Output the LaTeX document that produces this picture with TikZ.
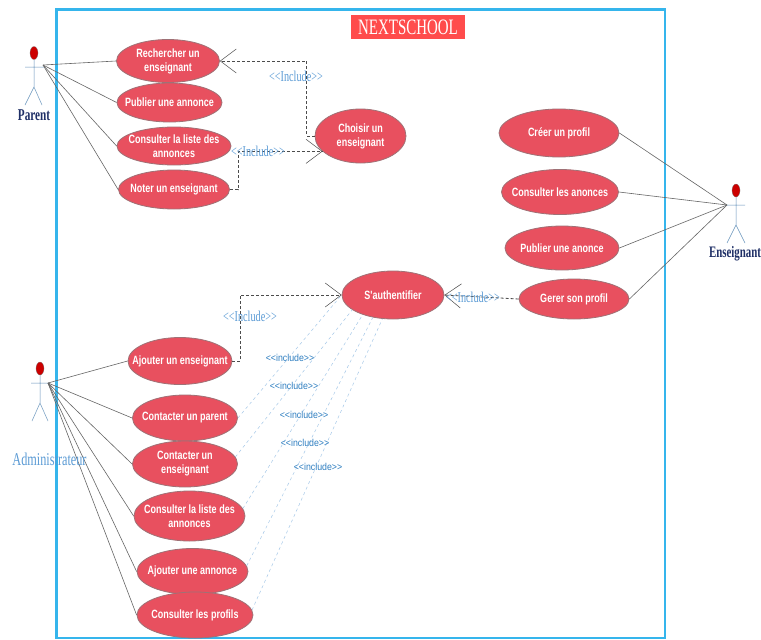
\documentclass[tikz,border=0pt]{standalone}
\usepackage{fontspec}
\usetikzlibrary{shapes.geometric,arrows.meta}
\newfontfamily\ucfont[FakeStretch=0.75]{Liberation Sans}
\newfontfamily\lblfont[FakeStretch=0.68]{Liberation Serif}
\newfontfamily\incfont[FakeStretch=0.88]{Liberation Sans}
\definecolor{ucred}{HTML}{E8505F}
\definecolor{frameblue}{HTML}{35B5EC}
\definecolor{navy}{HTML}{1F2F66}
\definecolor{lightlbl}{HTML}{5B9BD5}
\definecolor{incblue}{HTML}{2F7FC1}
\tikzset{
  usecase/.style={ellipse,draw=gray!70!ucred,line width=.8pt,fill=ucred,text=white,inner xsep=-30pt,inner ysep=-12pt,align=center,
    font=\ucfont\bfseries\fontsize{12}{14}\selectfont},
  actorline/.style={draw=lightlbl!70!gray,line width=.5pt},
  assoc/.style={draw=black!60,line width=.6pt},
  incl/.style={draw=black!70,densely dashed,line width=.8pt},
  inclhead/.style={-{Straight Barb[length=16pt,width=24pt,line width=.5pt]}},
  faint/.style={draw=lightlbl!55,dashed,line width=.5pt},
  seriflabel/.style={text=lightlbl,font=\lblfont\fontsize{15}{17}\selectfont,inner sep=0pt},
  smalllabel/.style={text=incblue,font=\incfont\fontsize{10}{12}\selectfont,inner sep=0pt},
  actorname/.style={inner sep=0pt}
}
\begin{document}
\begin{tikzpicture}[x=1pt,y=-1pt]
\useasboundingbox (0,0) rectangle (761,640);
\fill[white] (0,0) rectangle (761,640);
% system frame and title
\draw[frameblue,line width=2.2pt] (56.5,9.5) rectangle (665,638);
\node[fill=red!70!white,text=white,minimum width=114pt,minimum height=24pt,inner sep=0pt,
  font=\lblfont\fontsize{22}{24}\selectfont] (title) at (408,27) {NEXTSCHOOL};
% use cases
\node[usecase,minimum width=103pt,minimum height=43pt] (rech) at (168,61) {Rechercher un\\enseignant};
\node[usecase,minimum width=105pt,minimum height=39pt] (pub) at (169.5,102.5) {Publier une annonce};
\node[usecase,minimum width=114pt,minimum height=38pt] (cons) at (174,146) {Consulter la liste des\\annonces};
\node[usecase,minimum width=111pt,minimum height=39pt] (noter) at (174,189.5) {Noter un enseignant};
\node[usecase,minimum width=91pt,minimum height=54pt] (chois) at (360.5,136) {Choisir un\\enseignant};
\node[usecase,minimum width=120pt,minimum height=48pt] (creer) at (559,133) {Créer un profil};
\node[usecase,minimum width=117pt,minimum height=45pt] (anon) at (560,192) {Consulter les anonces};
\node[usecase,minimum width=114pt,minimum height=44pt] (pubano) at (562,248) {Publier une anonce};
\node[usecase,minimum width=110pt,minimum height=40pt] (gerer) at (574,299) {Gerer son profil};
\node[usecase,minimum width=102pt,minimum height=48pt] (auth) at (393,295) {S'authentifier};
\node[usecase,minimum width=104pt,minimum height=47pt] (ajens) at (180,361) {Ajouter un enseignant};
\node[usecase,minimum width=105pt,minimum height=46pt] (cpar) at (185,418) {Contacter un parent};
\node[usecase,minimum width=105pt,minimum height=46pt] (cens) at (185,464) {Contacter un\\enseignant};
\node[usecase,minimum width=111pt,minimum height=50pt] (clist) at (189.5,516) {Consulter la liste des\\annonces};
\node[usecase,minimum width=111pt,minimum height=46pt] (ajann) at (192.5,571.5) {Ajouter une annonce};
\node[usecase,minimum width=116pt,minimum height=46pt] (cprof) at (195,615) {Consulter les profils};
% actor Parent
\node[ellipse,fill=red!80!black,draw=black!50,line width=.3pt,minimum width=8pt,minimum height=13pt,inner sep=0pt] (headp) at (34,53) {};
\draw[actorline] (headp.south) -- (34,87) -- (25,105) (34,87) -- (42,105) (25,67) -- (45,67);
\coordinate (parent) at (43,65);
\node[actorname,text=navy,font=\lblfont\bfseries\fontsize{16.5}{18}\selectfont] (lparent) at (34,115) {Parent};
% actor Administrateur
\node[ellipse,fill=red!80!black,draw=black!50,line width=.3pt,minimum width=8pt,minimum height=13pt,inner sep=0pt] (heada) at (40,368.5) {};
\draw[actorline] (heada.south) -- (40,403) -- (32,421) (40,403) -- (48,421) (31,383) -- (50,383);
\coordinate (admin) at (48,383);
% associations
\foreach \t in {rech,pub,cons,noter} \draw[assoc] (parent) -- (\t.west);
\foreach \t in {ajens,cpar,cens,clist,ajann,cprof} \draw[assoc] (admin) -- (\t.west);
\node[actorname,text=lightlbl,font=\lblfont\fontsize{18}{20}\selectfont] (ladmin) at (49.5,459) {Administrateur};
% actor Enseignant
\node[ellipse,fill=red!80!black,draw=black!50,line width=.3pt,minimum width=8pt,minimum height=13pt,inner sep=0pt] (heade) at (736,190.5) {};
\draw[actorline] (heade.south) -- (736,225) -- (727,243) (736,225) -- (745,243) (725,205) -- (745,205);
\coordinate (ens) at (727,205);
\node[actorname,text=navy,font=\lblfont\bfseries\fontsize{16}{18}\selectfont] (lens) at (735,254) {Enseignant};
\foreach \t in {creer,anon,pubano,gerer} \draw[assoc] (ens) -- (\t.east);
% includes
\draw[incl,inclhead] (chois.west) -- ++(-8,0) |- (rech.east);
\draw[incl,inclhead] (noter.east) -- ++(8,0) |- (chois.202);
\draw[incl,inclhead] (ajens.east) -- ++(8,0) |- (auth.west);
\draw[incl,inclhead] (gerer.west) -- (auth.east);
\draw[faint] (cpar.east) -- (auth.west);
\draw[faint] (cens.8) -- (auth.200);
\draw[faint] (clist.8) -- (auth.213);
\draw[faint] (ajann.6) -- (auth.228);
\draw[faint] (cprof.5) -- (auth.246);
% include labels
\node[seriflabel] (i1) at (296,76) {<{}<Include>{}>};
\node[seriflabel] (i2) at (258,151) {<{}<Include>{}>};
\node[seriflabel] (i3) at (250,316) {<{}<Include>{}>};
\node[seriflabel] (i4) at (473,297) {<{}<Include>{}>};
\node[smalllabel] (s1) at (290,358) {<{}<include>{}>};
\node[smalllabel] (s2) at (294,386) {<{}<include>{}>};
\node[smalllabel] (s3) at (304,415) {<{}<include>{}>};
\node[smalllabel] (s4) at (305,443) {<{}<include>{}>};
\node[smalllabel] (s5) at (318,467) {<{}<include>{}>};
\end{tikzpicture}
\end{document}
